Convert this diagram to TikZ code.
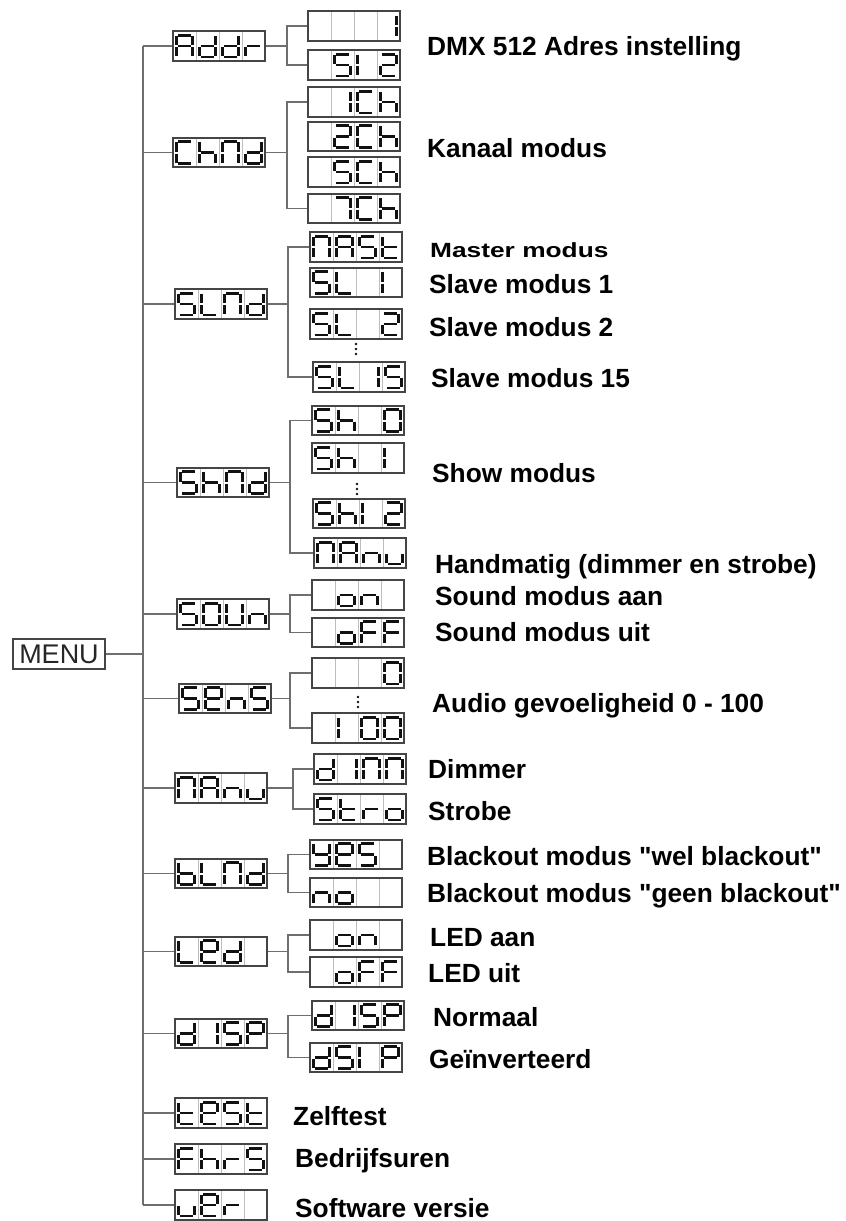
\documentclass[tikz,border=0pt]{standalone}
\usepackage{fontspec}
\usepackage{graphicx}
\setmainfont{Liberation Sans}
\newfontfamily\lblfam{Liberation Sans}
\usetikzlibrary{calc}
\definecolor{linegray}{HTML}{6E6E6E}
\definecolor{boxgray}{HTML}{454545}
\definecolor{divgray}{HTML}{BDBDBD}
\definecolor{segblack}{HTML}{111111}
\newcommand\lblfont{\lblfam\fontsize{26.3}{30}\selectfont\bfseries}
\def\defchr#1#2{\expandafter\def\csname chr@#1\endcsname{#2}}
\defchr{-}{z}
\defchr{A}{a,b,c,e,f,g}
\defchr{d}{b,c,d,e,g}
\defchr{r}{e,g}
\defchr{C}{a,d,e,f}
\defchr{h}{c,e,f,g}
\defchr{M}{a,b,c,e,f}
\defchr{S}{a,c,d,f,g}
\defchr{L}{d,e,f}
\defchr{t}{d,e,f,g}
\defchr{1}{b,c}
\defchr{I}{e,f}
\defchr{2}{a,b,d,e,g}
\defchr{0}{a,b,c,d,e,f}
\defchr{7}{a,b,c}
\defchr{U}{b,c,d,e,f}
\defchr{n}{c,e,g}
\defchr{o}{c,d,e,g}
\defchr{F}{a,e,f,g}
\defchr{e}{a,b,d,e,f,g}
\defchr{u}{c,d,e}
\defchr{b}{c,d,e,f,g}
\defchr{y}{b,c,d,f,g}
\defchr{P}{a,b,e,f,g}
\expandafter\def\csname seg@a\endcsname{\draw[segline] (-6.6,-10.8) -- (6.6,-10.8);}
\expandafter\def\csname seg@b\endcsname{\draw[segline] (8,-10.2) -- (8,-1);}
\expandafter\def\csname seg@c\endcsname{\draw[segline] (8,1) -- (8,10.2);}
\expandafter\def\csname seg@d\endcsname{\draw[segline] (-6.6,10.8) -- (6.6,10.8);}
\expandafter\def\csname seg@e\endcsname{\draw[segline] (-8,1) -- (-8,10.2);}
\expandafter\def\csname seg@f\endcsname{\draw[segline] (-8,-10.2) -- (-8,-1);}
\expandafter\def\csname seg@g\endcsname{\draw[segline] (-6.6,0) -- (6.6,0);}
\newcommand\drawchar[3]{%
  \begin{scope}[shift={(#1,#2)}]
    \edef\seglist{\csname chr@#3\endcsname}%
    \foreach \s in \seglist {\csname seg@\s\endcsname}%
  \end{scope}}
\newcommand\disp[7]{%
  \node[dispbox] (#1) at ({#2+46},#3) {};
  \foreach \k in {1,2,3} {\draw[celldiv] ({#2+23*\k},{#3-13.6}) -- ({#2+23*\k},{#3+13.6});}
  \drawchar{#2+11.5}{#3}{#4}\drawchar{#2+34.5}{#3}{#5}%
  \drawchar{#2+57.5}{#3}{#6}\drawchar{#2+80.5}{#3}{#7}}
\newcommand\branch[4]{%
  \coordinate (bx#1) at (#2,0);
  \draw[conn] (#1.east) -- (bx#1 |- #1.east);
  \draw[conn] (#3.west) -- (bx#1 |- #3.west) -- (bx#1 |- #4.west) -- (#4.west);}
\newcommand\dotcol[2]{\foreach \dy in {0,5,10}{\fill[segblack] (#1,{#2+\dy}) circle (1.3);}}
\tikzset{
  conn/.style={draw=linegray, line width=1.8pt},
  dispbox/.style={draw=boxgray, line width=1.8pt, minimum width=92pt, minimum height=29.5pt, inner sep=0pt, fill=white},
  celldiv/.style={draw=divgray, line width=0.9pt},
  segline/.style={line width=2.6pt, draw=segblack},
  lbl/.style={anchor=base west, inner sep=0pt, font=\lblfont},
  menubox/.style={draw=boxgray, line width=1.8pt, minimum width=92pt, minimum height=30pt, inner sep=0pt, font=\fontsize{27}{30}\selectfont, text=black!85},
}
\begin{document}
\begin{tikzpicture}[x=1pt,y=-1pt]
\useasboundingbox (0,0) rectangle (846,1221);
\fill[white] (0,0) rectangle (846,1221);
% menu
\node[menubox] (MENU) at (59,654) {MENU};
% level 1
\disp{Addr}{173}{46}{A}{d}{d}{r}
\disp{ChMd}{173}{152.5}{C}{h}{M}{d}
\disp{SLMd}{175}{304}{S}{L}{M}{d}
\disp{ShMd}{177}{482.5}{S}{h}{M}{d}
\disp{SOUn}{177}{614}{S}{0}{U}{n}
\disp{SEnS}{179}{698.5}{S}{e}{n}{S}
\disp{MAnu}{175}{788}{M}{A}{n}{u}
\disp{bLMd}{175}{873.5}{b}{L}{M}{d}
\disp{LEd}{175}{951.5}{L}{e}{d}{-}
\disp{dISP}{175}{1033.5}{d}{1}{S}{P}
\disp{tESt}{175}{1113}{t}{e}{S}{t}
\disp{FhrS}{175}{1159}{F}{h}{r}{S}
\disp{vEr}{175}{1205}{u}{e}{r}{-}
% level 2
\disp{aA}{308}{26}{-}{-}{-}{1}
\disp{aB}{308}{65}{-}{S}{I}{2}
\disp{cA}{308}{102}{-}{1}{C}{h}
\disp{cB}{308}{136.5}{-}{2}{C}{h}
\disp{cC}{308}{172}{-}{S}{C}{h}
\disp{cD}{308}{208.5}{-}{7}{C}{h}
\disp{sA}{310}{247}{M}{A}{S}{t}
\disp{sB}{310}{282.5}{S}{L}{-}{I}
\disp{sC}{310}{324}{S}{L}{-}{2}
\disp{sD}{313}{377}{S}{L}{1}{S}
\disp{hA}{312}{420.5}{S}{h}{-}{0}
\disp{hB}{312}{458}{S}{h}{-}{I}
\disp{hC}{313}{513.5}{S}{h}{I}{2}
\disp{hD}{314}{553}{M}{A}{n}{u}
\disp{oA}{312}{595}{-}{o}{n}{-}
\disp{oB}{312}{632.5}{-}{o}{F}{F}
\disp{eA}{312}{673}{-}{-}{-}{0}
\disp{eB}{312}{728}{-}{I}{0}{0}
\disp{mA}{314}{769}{d}{1}{M}{M}
\disp{mB}{314}{809}{S}{t}{r}{o}
\disp{bA}{310}{854.5}{y}{e}{S}{-}
\disp{bB}{310}{892.5}{n}{o}{-}{-}
\disp{lA}{310}{935}{-}{o}{n}{-}
\disp{lB}{310}{972}{-}{o}{F}{F}
\disp{dA}{312}{1015.5}{d}{1}{S}{P}
\disp{dB}{310}{1057.5}{d}{S}{I}{P}
% dots
\dotcol{356}{344}
\dotcol{357}{484}
\dotcol{358}{697}
% spine
\coordinate (spine) at (143,0);
\draw[conn] (MENU.east) -- (spine |- MENU.east);
\draw[conn] (spine |- Addr.west) -- (spine |- vEr.west);
\foreach \n in {Addr,ChMd,SLMd,ShMd,SOUn,SEnS,MAnu,bLMd,LEd,dISP,tESt,FhrS,vEr}
  {\draw[conn] (spine |- \n.west) -- (\n.west);}
% branches
\branch{Addr}{287}{aA}{aB}
\branch{ChMd}{287}{cA}{cD}
\branch{SLMd}{288}{sA}{sD}
\branch{ShMd}{290}{hA}{hD}
\branch{SOUn}{290}{oA}{oB}
\branch{SEnS}{290}{eA}{eB}
\branch{MAnu}{293}{mA}{mB}
\branch{bLMd}{288}{bA}{bB}
\branch{LEd}{288}{lA}{lB}
\branch{dISP}{288}{dA}{dB}
% labels
\node[lbl] (t1) at (427,55) {DMX 512 Adres instelling};
\node[lbl] (t2) at (427,157) {Kanaal modus};
\node[lbl] (t3) at (430,257) {\scalebox{1}[0.78]{Master modus}};
\node[lbl] (t4) at (429,293) {Slave modus 1};
\node[lbl] (t5) at (429,336) {Slave modus 2};
\node[lbl] (t6) at (431,387) {Slave modus 15};
\node[lbl] (t7) at (432,482) {Show modus};
\node[lbl] (t8) at (435,573) {Handmatig (dimmer en strobe)};
\node[lbl] (t9) at (435,605) {Sound modus aan};
\node[lbl] (t10) at (435,641) {Sound modus uit};
\node[lbl] (t11) at (432,712) {Audio gevoeligheid 0 - 100};
\node[lbl] (t12) at (428,778) {Dimmer};
\node[lbl] (t13) at (428,820) {Strobe};
\node[lbl] (t14) at (427,865) {Blackout modus "wel blackout"};
\node[lbl] (t15) at (427,902) {Blackout modus "geen blackout"};
\node[lbl] (t16) at (430,946) {LED aan};
\node[lbl] (t17) at (428,982) {LED uit};
\node[lbl] (t18) at (433,1026) {Normaal};
\node[lbl] (t19) at (429,1068) {Geïnverteerd};
\node[lbl] (t20) at (293,1125) {Zelftest};
\node[lbl] (t21) at (295,1167) {Bedrijfsuren};
\node[lbl] (t22) at (295,1217) {Software versie};
\end{tikzpicture}
\end{document}
